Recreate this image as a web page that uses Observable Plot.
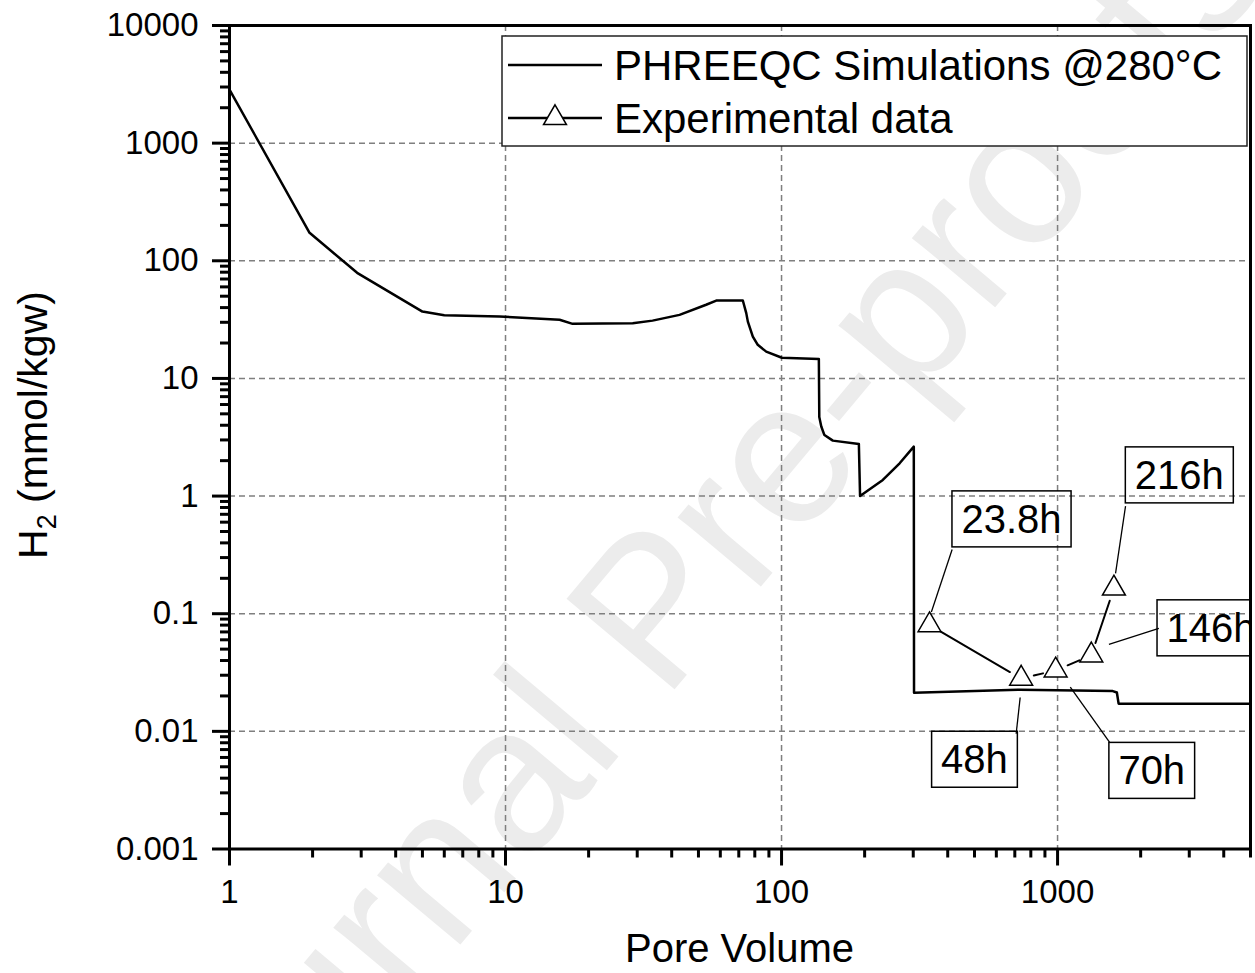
<!DOCTYPE html>
<html><head><meta charset="utf-8">
<script src="https://cdn.jsdelivr.net/npm/d3@7"></script>
<script src="https://cdn.jsdelivr.net/npm/@observablehq/plot@0.6"></script>
<style>
body{margin:0;background:#fff;}
#chart{position:relative;width:1255px;height:973px;}
#chart svg g[aria-label$="axis tick"], #chart svg g[aria-label$="axis tick"] path, #chart svg g[aria-label$="axis tick"] line { stroke-width: 3px !important; stroke: black !important; }
</style></head><body><div id="chart"></div>
<script>
// PHREEQC simulation (pore volume vs H2 mmol/kgw)
const simX = [1, 1.95, 2.9, 5.0, 6.0, 9.5, 15.7, 17.5, 28.9, 34.1, 42.7, 53.3, 58, 72.4, 74.5, 75.5, 78.7, 82, 88, 100.3, 136.5, 137, 139.3, 143, 153.4, 190.6, 192.5, 232.8, 267.8, 301.4, 302, 728, 1585, 1640, 1664, 5000];
const simY = [2850, 173, 79, 37, 34.5, 33.6, 31.5, 29.1, 29.5, 31, 34.7, 42.3, 45.9, 46, 35.9, 30.4, 22.7, 19.3, 16.9, 15.0, 14.6, 4.7, 3.9, 3.3, 2.96, 2.77, 1.0, 1.37, 1.90, 2.63, 0.0213, 0.0226, 0.022, 0.0214, 0.0172, 0.0172];
// Experimental data
const expX = [343.6, 738, 984, 1325, 1600];
const expY = [0.080, 0.0281, 0.033, 0.0443, 0.164];
const expLabels = ["23.8h", "48h", "70h", "146h", "216h"];
// annotation boxes (data coordinates) and leader lines
const labelX = [681, 500, 2194, 3597, 2761];
const labelY = [0.625, 0.00566, 0.00455, 0.0741, 1.479];
const leadFromX = [415, 708, 1542, 2328, 1763];
const leadFromY = [0.351, 0.00955, 0.0081, 0.075, 0.822];
const leadToX = [349, 732, 1112, 1535, 1622];
const leadToY = [0.1035, 0.0194, 0.0238, 0.055, 0.22];
// axes
const xTicks = [1, 10, 100, 1000];
const xTickLabels = ["1", "10", "100", "1000"];
const yTicks = [0.001, 0.01, 0.1, 1, 10, 100, 1000, 10000];
const yTickLabels = ["0.001", "0.01", "0.1", "1", "10", "100", "1000", "10000"];
const seriesNames = ["PHREEQC Simulations @280°C", "Experimental data"];
const xTitle = "Pore Volume";
const watermark = "Journal Pre-proofs";

const font = "'Liberation Sans', Arial, sans-serif";
const sim = simX.map((x, i) => ({x, y: simY[i]}));
const exp = expX.map((x, i) => ({x, y: expY[i]}));
const segs = exp.slice(1).map((d, i) => ({x1: exp[i].x, y1: exp[i].y, x2: d.x, y2: d.y}));
const ann = expLabels.map((t, i) => ({t, x: labelX[i], y: labelY[i], lx1: leadFromX[i], ly1: leadFromY[i], lx2: leadToX[i], ly2: leadToY[i]}));

const xMinor = [];
for (const dec of [1, 10, 100, 1000]) for (let m = 2; m <= 9; m++) { const v = m * dec; if (v <= 5000) xMinor.push(v); }
const yMinor = [];
for (const dec of [0.001, 0.01, 0.1, 1, 10, 100, 1000]) for (let m = 2; m <= 9; m++) yMinor.push(+(m * dec).toPrecision(3));

const W = 1255, H = 973, mT = 25, mR = 5, mB = 124.5, mL = 229;
const gridStyle = {stroke: "#7f7f7f", strokeOpacity: 1, strokeWidth: 1.5, strokeDasharray: "6,4"};

const plot = Plot.plot({
  width: W, height: H, marginTop: mT, marginRight: mR, marginBottom: mB, marginLeft: mL,
  style: {fontFamily: font, background: "white", color: "black"},
  x: {type: "log", domain: [1, 5000]},
  y: {type: "log", domain: [0.001, 10000]},
  marks: [
    Plot.gridX(xTicks, gridStyle),
    Plot.gridY(yTicks, gridStyle),
    Plot.line(sim, {x: "x", y: "y", stroke: "black", strokeWidth: 2.5}),
    Plot.arrow(segs, {x1: "x1", y1: "y1", x2: "x2", y2: "y2", bend: 0, headLength: 0, inset: 13, stroke: "black", strokeWidth: 2}),
    Plot.dot(exp, {x: "x", y: "y", symbol: "triangle", r: 8.5, fill: "white", stroke: "black", strokeWidth: 1.5}),
    Plot.link(ann, {x1: "lx1", y1: "ly1", x2: "lx2", y2: "ly2", stroke: "black", strokeWidth: 1.3}),
    Plot.text(ann, {x: "x", y: "y", text: "t", fontSize: 40, fill: "black", clip: "frame", className: "ann"}),
    Plot.frame({stroke: "black", strokeWidth: 3}),
    Plot.axisX(xTicks, {tickSize: 17, tickPadding: 14, strokeWidth: 3, fontSize: 33, label: null,
      tickFormat: d => xTickLabels[xTicks.indexOf(d)]}),
    Plot.axisX(xMinor, {tickSize: 9, strokeWidth: 3, label: null, tickFormat: () => ""}),
    Plot.axisY(yTicks, {tickSize: 17, tickPadding: 14, strokeWidth: 3, fontSize: 33, label: null,
      tickFormat: d => yTickLabels[yTicks.indexOf(d)]}),
    Plot.axisY(yMinor, {tickSize: 9, strokeWidth: 3, label: null, tickFormat: () => ""})
  ]
});
document.getElementById("chart").appendChild(plot);

const svg = d3.select(plot);
svg.selectAll("g").filter(function() {
  const a = this.getAttribute("aria-label") || "";
  return a.endsWith("axis tick");
}).attr("stroke-width", 3).selectAll("path,line").attr("stroke-width", 3);

// watermark behind everything
const firstMark = plot.querySelector("g");
const wm = document.createElementNS("http://www.w3.org/2000/svg", "text");
wm.setAttribute("transform", "translate(737,615) rotate(-50)");
wm.setAttribute("text-anchor", "middle");
wm.setAttribute("font-size", "205");
wm.setAttribute("font-family", font);
wm.setAttribute("fill", "#ececec");
wm.textContent = watermark;
plot.insertBefore(wm, firstMark);

// boxes around annotation labels
svg.selectAll("g.ann text").each(function() {
  const b = this.getBBox();
  d3.select(this.parentNode).insert("rect", () => this)
    .attr("transform", this.getAttribute("transform"))
    .attr("x", b.x - 9.5).attr("y", b.y + 0.5 - 6.5)
    .attr("width", b.width + 19).attr("height", b.height + 12)
    .attr("fill", "none").attr("stroke", "black").attr("stroke-width", 1.5);
});

// legend
const lgRight = W - mR - 3, lgTop = mT + 11, lgW = 745, lgH = 110;
const lgLeft = lgRight - lgW;
const lg = svg.append("g").attr("font-family", font).attr("text-anchor", "start");
lg.append("rect").attr("x", lgLeft).attr("y", lgTop).attr("width", lgW).attr("height", lgH)
  .attr("fill", "white").attr("stroke", "#222").attr("stroke-width", 1.5);
const rows = [lgTop + 29, lgTop + 82];
seriesNames.forEach((name, i) => {
  const y = rows[i];
  lg.append("line").attr("x1", lgLeft + 6).attr("x2", lgLeft + 100).attr("y1", y).attr("y2", y)
    .attr("stroke", "black").attr("stroke-width", 2.5);
  if (i === 1) {
    lg.append("path").attr("d", d3.symbol(d3.symbolTriangle, Math.PI * 8.5 * 8.5)())
      .attr("transform", `translate(${lgLeft + 53},${y})`)
      .attr("fill", "white").attr("stroke", "black").attr("stroke-width", 1.5);
  }
  lg.append("text").attr("x", lgLeft + 112).attr("y", y + 15).attr("text-anchor", "start")
    .attr("font-size", 42).attr("fill", "black").text(name);
});

// axis titles
const plotCX = mL + (W - mL - mR) / 2;
svg.append("text").attr("x", plotCX).attr("y", H - 11).attr("text-anchor", "middle")
  .attr("font-family", font).attr("font-size", 40).attr("fill", "black").text(xTitle);
const yt = svg.append("text").attr("transform", "translate(47,425) rotate(-90)").attr("text-anchor", "middle")
  .attr("font-family", font).attr("font-size", 41).attr("fill", "black");
yt.append("tspan").text("H");
yt.append("tspan").attr("font-size", 27).attr("dy", 9).text("2");
yt.append("tspan").attr("dy", -9).text(" (mmol/kgw)");
</script>
</body></html>
